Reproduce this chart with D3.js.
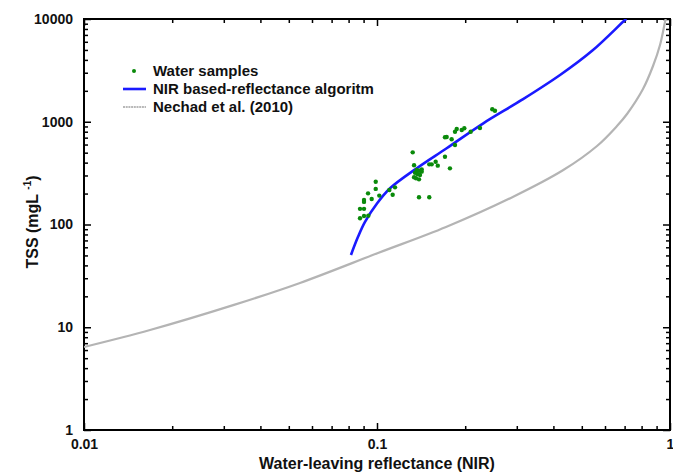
<!DOCTYPE html>
<html><head><meta charset="utf-8">
<script src="https://cdn.jsdelivr.net/npm/d3@7"></script>
<style>
body{margin:0;background:#fff;}
text{font-family:"Liberation Sans",Arial,sans-serif;font-weight:bold;fill:#111;}
</style></head>
<body><svg id="c" width="673" height="472"></svg>
<script>
// ---- data ----
const xTickLabels = [0.01, 0.1, 1];
const yTickLabels = [1, 10, 100, 1000, 10000];
const samplesX = [0.2474,0.2527,0.2246,0.2088,0.1986,0.1946,0.1871,0.1846,0.1798,0.1729,0.1706,0.1846,0.1706,0.1774,0.1586,0.1612,0.1537,0.1508,0.1324,0.1338,0.1366,0.1394,0.1421,0.1348,0.1373,0.1402,0.1338,0.1359,0.1391,0.1421,0.1391,0.1508,0.1102,0.1131,0.1152,0.0990,0.0990,0.1018,0.0959,0.0932,0.0903,0.0903,0.0875,0.0903,0.0903,0.0934,0.0875];
const samplesY = [1322,1281,869,800,864,831,850,800,675,711,706,594,457,352,408,374,385,385,504,377,339,334,344,319,310,303,288,282,275,327,184,184,217,195,230,261,222,191,177,201,173,166,142,142,121,122,115];
const nirX = [0.0815,0.0860,0.0910,0.1000,0.1108,0.1366,0.1729,0.2306,0.3119,0.4214,0.5461,0.7022,0.7100];
const nirY = [50.5,75,106,160,225,352,552,966,1629,2851,4991,9777,10000];
const nechadX = [0.01,0.0168,0.0325,0.0546,0.1008,0.1720,0.2918,0.4324,0.5636,0.6593,0.7134,0.8087,0.8750,0.9245,0.9614,0.9845];
const nechadY = [6.42,9.40,16.5,27.0,52.8,94.6,186.5,339,581,909,1190,2083,3487,5585,9350,12790];
const legendLabels = ["Water samples","NIR based-reflectance algoritm","Nechad et al. (2010)"];

const svg = d3.select("#c");
const L = 84, R = 670, T = 19, B = 430;
const x = d3.scaleLog().domain([0.01, 1]).range([L, R]);
const y = d3.scaleLog().domain([1, 10000]).range([B, T]);

const minorX = [], minorY = [];
[0.01, 0.1].forEach(d => { for (let k = 2; k <= 9; k++) minorX.push(d * k); });
[1, 10, 100, 1000].forEach(d => { for (let k = 2; k <= 9; k++) minorY.push(d * k); });

svg.append("defs").append("clipPath").attr("id","pc")
  .append("rect").attr("x",L).attr("y",T).attr("width",R-L).attr("height",B-T);

function axisG(axis, tx, ty){
  const g = svg.append("g").attr("transform",`translate(${tx},${ty})`).call(axis);
  g.select(".domain").remove();
  g.selectAll(".tick line").attr("stroke","#000").attr("stroke-width",1.5);
  return g;
}
// bottom
axisG(d3.axisBottom(x).tickValues(xTickLabels).tickSize(-7).tickPadding(9).tickFormat(d3.format("")), 0, B)
  .selectAll("text").attr("font-size",14);
axisG(d3.axisBottom(x).tickValues(minorX).tickSize(-4).tickFormat(""), 0, B);
// top
axisG(d3.axisTop(x).tickValues(xTickLabels).tickSize(-7).tickFormat(""), 0, T);
axisG(d3.axisTop(x).tickValues(minorX).tickSize(-4).tickFormat(""), 0, T);
// left
axisG(d3.axisLeft(y).tickValues(yTickLabels).tickSize(-7).tickPadding(11).tickFormat(d3.format("")), L, 0)
  .selectAll("text").attr("font-size",14);
axisG(d3.axisLeft(y).tickValues(minorY).tickSize(-4).tickFormat(""), L, 0);
// right
axisG(d3.axisRight(y).tickValues(yTickLabels).tickSize(-7).tickFormat(""), R, 0);
axisG(d3.axisRight(y).tickValues(minorY).tickSize(-4).tickFormat(""), R, 0);

svg.append("rect").attr("x",L).attr("y",T).attr("width",R-L).attr("height",B-T)
  .attr("fill","none").attr("stroke","#000").attr("stroke-width",2);

const line = d3.line().curve(d3.curveCatmullRom.alpha(0.5));
const plot = svg.append("g").attr("clip-path","url(#pc)");
plot.append("path")
  .attr("d", line(nechadX.map((d,i)=>[x(d), y(nechadY[i])])))
  .attr("fill","none").attr("stroke","#b4b4b4").attr("stroke-width",2.2);
plot.append("path")
  .attr("d", line(nirX.map((d,i)=>[x(d), y(nirY[i])])))
  .attr("fill","none").attr("stroke","#1a1aff").attr("stroke-width",2.6);
plot.selectAll("circle.s").data(samplesX).join("circle")
  .attr("cx",(d)=>x(d)).attr("cy",(d,i)=>y(samplesY[i])).attr("r",2.2)
  .attr("fill","#0a8a0a");

// legend
const lg = svg.append("g");
lg.append("circle").attr("cx",134).attr("cy",71).attr("r",2).attr("fill","#0a8a0a");
lg.append("line").attr("x1",123).attr("x2",146).attr("y1",89).attr("y2",89).attr("stroke","#1a1aff").attr("stroke-width",2.6);
lg.append("line").attr("x1",123).attr("x2",146).attr("y1",107).attr("y2",107).attr("stroke","#b8b8b8").attr("stroke-width",2).attr("stroke-dasharray","2,0.7");
legendLabels.forEach((t,i)=>{
  lg.append("text").attr("x",153).attr("y",71+18*i).attr("dy","0.35em").attr("font-size",15).text(t);
});

// axis titles
svg.append("text").attr("x",377).attr("y",469).attr("text-anchor","middle").attr("font-size",16)
  .text("Water-leaving reflectance (NIR)");
const yl = svg.append("text").attr("transform","translate(38,222) rotate(-90)").attr("text-anchor","middle").attr("font-size",16);
yl.append("tspan").text("TSS (mgL ");
yl.append("tspan").attr("font-size",10).attr("dy",-7).text("-1");
yl.append("tspan").attr("dy",7).text(")");
</script></body></html>
